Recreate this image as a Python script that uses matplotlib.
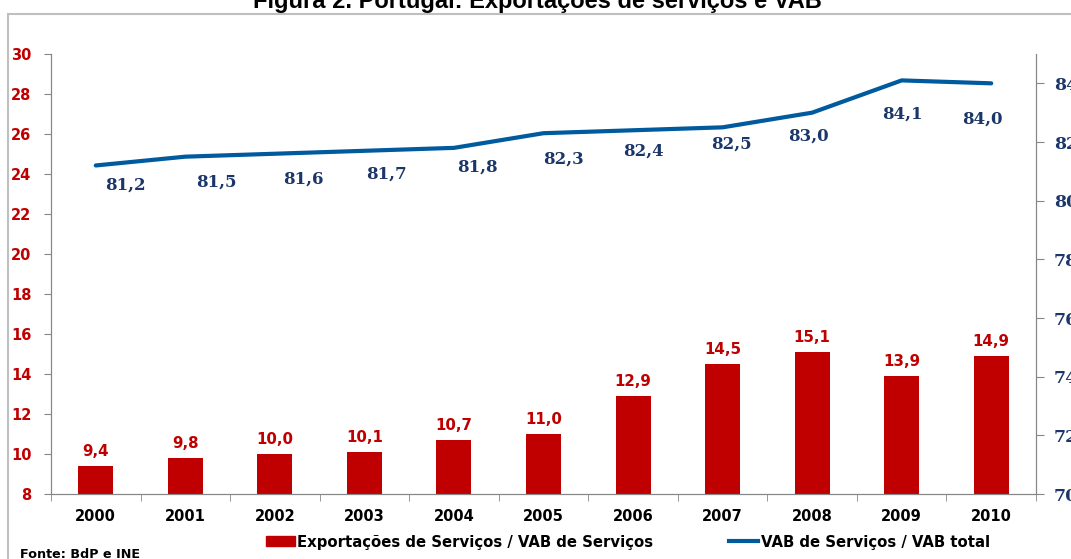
import numpy as np
import matplotlib
matplotlib.use("Agg")
import matplotlib.pyplot as plt
from matplotlib.patches import Rectangle, Patch
from matplotlib.lines import Line2D

# data
years = ["2000", "2001", "2002", "2003", "2004", "2005",
         "2006", "2007", "2008", "2009", "2010"]
exports_share = [9.4, 9.8, 10.0, 10.1, 10.7, 11.0, 12.9, 14.5, 15.1, 13.9, 14.9]
vab_share = [81.2, 81.5, 81.6, 81.7, 81.8, 82.3, 82.4, 82.5, 83.0, 84.1, 84.0]
left_ticks = [8, 10, 12, 14, 16, 18, 20, 22, 24, 26, 28, 30]
right_ticks = [70, 72, 74, 76, 78, 80, 82, 84]

sans = "DejaVu Sans"
serif = "DejaVu Serif"
RED = "#C00000"
BLUE = "#005A9E"
NAVY = "#1B3668"
GREY = "#868686"

W, H = 1071, 559
fig = plt.figure(figsize=(W / 100, H / 100), dpi=100)

# outer frame of the original figure box
fig.patches.append(Rectangle((8 / W, -0.1), 1.2, 1 - 14 / H + 0.1,
                             transform=fig.transFigure, fill=False,
                             edgecolor="#BFBFBF", linewidth=1.5))

fig.text(0.502, 1 - 8 / H, "Figura 2. Portugal: Exportações de serviços e VAB",
         ha="center", va="baseline", fontsize=17, fontweight="bold",
         family="Liberation Sans")

ax = fig.add_axes([51 / W, (H - 494) / H, (1036 - 51) / W, (494 - 54) / H])
x = np.arange(len(years))

ax.bar(x, exports_share, width=0.39, color=RED, zorder=2)
ax.set_xlim(-0.5, len(years) - 0.5)
ax.set_ylim(8, 30)
ax.set_yticks(left_ticks)
ax.set_yticklabels([str(t) for t in left_ticks], color=RED, fontweight="bold",
                   family=sans, fontsize=10.5)
ax.set_xticks(x)
ax.set_xticklabels(years, fontweight="bold", family=sans, fontsize=10.5)
ax.set_xticks(np.arange(-0.5, len(years)), minor=True)
ax.tick_params(axis="x", which="major", length=0, pad=11)
ax.tick_params(axis="x", which="minor", length=5, color=GREY, direction="out")
ax.tick_params(axis="y", length=5, color=GREY, direction="out", pad=9)
for s in ["left", "bottom", "right"]:
    ax.spines[s].set_color(GREY)
ax.spines["top"].set_visible(False)

for xi, v in zip(x, exports_share):
    ax.annotate(f"{v:.1f}".replace(".", ","), (xi, v), xytext=(0, 5),
                textcoords="offset points", ha="center", va="bottom",
                color=RED, fontweight="bold", family=sans, fontsize=10.8)

ax2 = ax.twinx()
ax2.plot(x, vab_share, color=BLUE, linewidth=3, solid_capstyle="round", zorder=3)
ax2.set_ylim(70, 85)
ax2.set_yticks(right_ticks)
ax2.set_yticklabels([str(t) for t in right_ticks], color=NAVY, fontweight="bold",
                    family=serif, fontsize=12.5)
ax2.tick_params(axis="y", length=6, color=GREY, direction="out", pad=7)
for s in ["left", "bottom", "right"]:
    ax2.spines[s].set_color(GREY)
ax2.spines["top"].set_visible(False)

# label placement relative to each point, in pixels (as moved in the original)
label_dx = [30, 31, 29, 22, 23, 20, 10, 9, -4, 1, -9]
label_dy = [20, 25, 25, 23, 19, 26, 21, 17, 23, 34, 36]
for xi, v, dx, dy in zip(x, vab_share, label_dx, label_dy):
    ax2.annotate(f"{v:.1f}".replace(".", ","), (xi, v),
                 xytext=(dx * 0.72, -dy * 0.72),
                 textcoords="offset points", ha="center", va="center",
                 color=NAVY, fontweight="bold", family=serif, fontsize=12)

handles = [Patch(facecolor=RED, edgecolor=RED),
           Line2D([0], [0], color=BLUE, linewidth=3)]
fig.legend(handles, ["Exportações de Serviços / VAB de Serviços",
                     "VAB de Serviços / VAB total"],
           loc="center", bbox_to_anchor=(628 / W, 1 - 542 / H), ncol=2,
           frameon=False, prop={"family": sans, "weight": "bold", "size": 10.7},
           handlelength=1.9, handletextpad=0.2, columnspacing=5.1,
           handleheight=0.62)

fig.text(20 / W, 1 - 555 / H, "Fonte: BdP e INE", ha="left", va="center",
         fontsize=9.2, fontweight="bold", family=sans)

fig.savefig("out.png", dpi=100)
